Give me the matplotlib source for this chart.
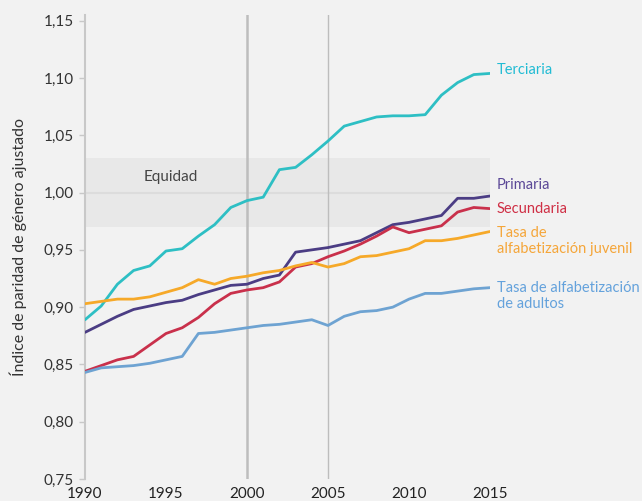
import matplotlib
matplotlib.use("Agg")
import matplotlib.pyplot as plt

plt.rcParams['font.family'] = ['Lato', 'DejaVu Sans']

years = list(range(1990, 2016))
terciaria = [0.889, 0.901, 0.920, 0.932, 0.936, 0.949, 0.951, 0.962, 0.972, 0.987, 0.993, 0.996,
             1.020, 1.022, 1.033, 1.045, 1.058, 1.062, 1.066, 1.067, 1.067, 1.068, 1.085, 1.096,
             1.103, 1.104]
primaria = [0.878, 0.885, 0.892, 0.898, 0.901, 0.904, 0.906, 0.911, 0.915, 0.919, 0.920, 0.925,
            0.928, 0.948, 0.950, 0.952, 0.955, 0.958, 0.965, 0.972, 0.974, 0.977, 0.980, 0.995,
            0.995, 0.997]
secundaria = [0.844, 0.849, 0.854, 0.857, 0.867, 0.877, 0.882, 0.891, 0.903, 0.912, 0.915, 0.917,
              0.922, 0.935, 0.938, 0.944, 0.949, 0.955, 0.962, 0.970, 0.965, 0.968, 0.971, 0.983,
              0.987, 0.986]
juvenil = [0.903, 0.905, 0.907, 0.907, 0.909, 0.913, 0.917, 0.924, 0.920, 0.925, 0.927, 0.930,
           0.932, 0.936, 0.939, 0.935, 0.938, 0.944, 0.945, 0.948, 0.951, 0.958, 0.958, 0.960,
           0.963, 0.966]
adultos = [0.843, 0.847, 0.848, 0.849, 0.851, 0.854, 0.857, 0.877, 0.878, 0.880, 0.882, 0.884,
           0.885, 0.887, 0.889, 0.884, 0.892, 0.896, 0.897, 0.900, 0.907, 0.912, 0.912, 0.914,
           0.916, 0.917]

series = [
    ("Terciaria", terciaria, "#2ebfc4", "#22bcd4"),
    ("Primaria", primaria, "#4b3d84", "#5b4897"),
    ("Secundaria", secundaria, "#c9304b", "#cf2f45"),
    ("Tasa de\nalfabetización juvenil", juvenil, "#f6a929", "#f5a63a"),
    ("Tasa de alfabetización\nde adultos", adultos, "#6ea3d2", "#64a2dc"),
]
yticks = [0.75, 0.80, 0.85, 0.90, 0.95, 1.00, 1.05, 1.10, 1.15]
xticks = [1990, 1995, 2000, 2005, 2010, 2015]

bg = "#f2f2f2"
fig = plt.figure(figsize=(6.42, 5.01), dpi=100, facecolor=bg)
ax = fig.add_axes([85/642, 1-479/501, (490-85)/642, (479-15)/501], facecolor=bg)
ax.set_xlim(1990, 2015)
ax.set_ylim(0.75, 1.155)

# equity band
ax.axhspan(0.97, 1.03, color="#e8e8e8", zorder=0, lw=0)
ax.axhline(1.0, color="#dcdcdc", lw=1.5, zorder=0.5)
ax.text(1995.3, 1.0135, "Equidad", fontsize=11, color="#444444", va="center", ha="center")

# vertical reference lines
ax.axvline(2000, color="#bdbdbd", lw=1.8, zorder=1)
ax.axvline(2005, color="#bdbdbd", lw=1.0, zorder=1)

for name, vals, lc, tc in series:
    ax.plot(years, vals, color=lc, lw=2.0, zorder=3, solid_capstyle='round')

label_pos = {
    "Terciaria": 1.107,
    "Primaria": 1.007,
    "Secundaria": 0.986,
    "Tasa de\nalfabetización juvenil": 0.958,
    "Tasa de alfabetización\nde adultos": 0.910,
}
for name, vals, lc, tc in series:
    ax.annotate(name, xy=(1, label_pos[name]), xycoords=('axes fraction', 'data'),
                xytext=(5, 0), textcoords='offset points', fontsize=10.5, color=tc,
                va="center", ha="left", linespacing=1.2, annotation_clip=False)

for s in ["top", "right", "bottom"]:
    ax.spines[s].set_visible(False)
ax.spines["left"].set_color("#c8c8c8")
ax.spines["left"].set_linewidth(1.5)

ax.set_yticks(yticks)
ax.set_yticklabels([f"{v:.2f}".replace(".", ",") for v in yticks])
ax.set_xticks(xticks)
ax.set_xticklabels([str(v) for v in xticks])
ax.tick_params(axis="y", length=4, width=1, color="#c8c8c8", labelsize=11, labelcolor="#333333", pad=4)
ax.tick_params(axis="x", length=0, labelsize=11, labelcolor="#222222", pad=6)
ax.set_ylabel("Índice de paridad de género ajustado", fontsize=11.5, color="#333333", labelpad=12)

fig.savefig("out.png", dpi=100, facecolor=bg)
